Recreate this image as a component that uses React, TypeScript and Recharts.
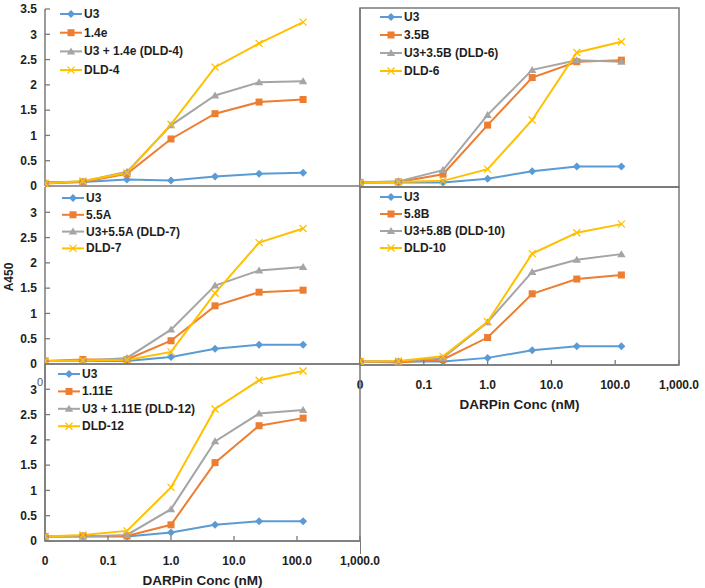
import React from "react";
import { LineChart, Line, XAxis, YAxis, ReferenceArea } from "recharts";

// x positions (nM) and axis labels
const conc = [0.01, 0.04, 0.2, 1, 5, 25, 125];
const xTicks = [0.01, 0.1, 1, 10, 100, 1000];
const xTickLabels = ["0", "0.1", "1.0", "10.0", "100.0", "1,000.0"];
const yTicksFull = [0, 0.5, 1, 1.5, 2, 2.5, 3, 3.5];
const yTicksCut = [0, 0.5, 1, 1.5, 2, 2.5, 3];

// panel: 1.4e / DLD-4
const namesDld4 = ["U3", "1.4e", "U3 + 1.4e (DLD-4)", "DLD-4"];
const u3Dld4 = [0.07, 0.08, 0.13, 0.11, 0.19, 0.24, 0.26];
const e14 = [0.05, 0.08, 0.24, 0.93, 1.43, 1.66, 1.71];
const u3e14 = [0.07, 0.09, 0.28, 1.2, 1.79, 2.05, 2.07];
const dld4 = [0.05, 0.1, 0.26, 1.22, 2.35, 2.82, 3.24];

// panel: 3.5B / DLD-6
const namesDld6 = ["U3", "3.5B", "U3+3.5B (DLD-6)", "DLD-6"];
const u3Dld6 = [0.09, 0.09, 0.09, 0.16, 0.31, 0.4, 0.4];
const b35 = [0.09, 0.1, 0.25, 1.21, 2.14, 2.45, 2.48];
const u3b35 = [0.09, 0.11, 0.33, 1.41, 2.29, 2.48, 2.45];
const dld6 = [0.09, 0.1, 0.12, 0.35, 1.31, 2.63, 2.84];

// panel: 5.5A / DLD-7
const namesDld7 = ["U3", "5.5A", "U3+5.5A (DLD-7)", "DLD-7"];
const u3Dld7 = [0.06, 0.06, 0.06, 0.14, 0.3, 0.38, 0.38];
const a55 = [0.06, 0.09, 0.09, 0.46, 1.15, 1.42, 1.46];
const u3a55 = [0.06, 0.06, 0.12, 0.68, 1.55, 1.85, 1.92];
const dld7 = [0.06, 0.07, 0.08, 0.24, 1.4, 2.4, 2.68];

// panel: 5.8B / DLD-10
const namesDld10 = ["U3", "5.8B", "U3+5.8B (DLD-10)", "DLD-10"];
const u3Dld10 = [0.07, 0.07, 0.07, 0.14, 0.29, 0.37, 0.37];
const b58 = [0.07, 0.05, 0.11, 0.54, 1.4, 1.69, 1.77];
const u3b58 = [0.07, 0.07, 0.14, 0.84, 1.83, 2.07, 2.18];
const dld10 = [0.07, 0.08, 0.17, 0.85, 2.19, 2.6, 2.77];

// panel: 1.11E / DLD-12
const namesDld12 = ["U3", "1.11E", "U3 + 1.11E (DLD-12)", "DLD-12"];
const u3Dld12 = [0.09, 0.09, 0.09, 0.17, 0.32, 0.39, 0.39];
const e111 = [0.09, 0.1, 0.1, 0.32, 1.55, 2.28, 2.43];
const u3e111 = [0.09, 0.09, 0.12, 0.63, 1.97, 2.52, 2.59];
const dld12 = [0.09, 0.12, 0.2, 1.06, 2.61, 3.18, 3.36];

const colors = ["#5B9BD5", "#ED7D31", "#A5A5A5", "#FFC000"];
const shapes = ["diamond", "square", "triangle", "x"];
const axisColor = "#7a7a7a";
const font = "'Liberation Sans', Arial, sans-serif";
const textColor = "#1e1e1e";

function Marker({ kind, cx, cy, color }: { kind: string; cx: number; cy: number; color: string }) {
  if (kind === "diamond")
    return <path d={`M${cx},${cy - 4}L${cx + 4},${cy}L${cx},${cy + 4}L${cx - 4},${cy}Z`} fill={color} />;
  if (kind === "square") return <rect x={cx - 3.5} y={cy - 3.5} width={7} height={7} fill={color} />;
  if (kind === "triangle")
    return <path d={`M${cx},${cy - 4}L${cx + 4.2},${cy + 3}L${cx - 4.2},${cy + 3}Z`} fill={color} />;
  return (
    <path
      d={`M${cx - 3.5},${cy - 3.5}L${cx + 3.5},${cy + 3.5}M${cx + 3.5},${cy - 3.5}L${cx - 3.5},${cy + 3.5}`}
      stroke={color}
      strokeWidth={1.3}
      fill="none"
    />
  );
}

type PanelProps = {
  left: number;
  top: number;
  width: number;
  height: number;
  yWidth: number;
  marginTop: number;
  marginRight: number;
  xHeight: number;
  series: number[][];
  yTickValues: number[];
  yLabels: boolean;
  xLabels: boolean;
  boxed: boolean;
};

function Panel(p: PanelProps) {
  const data = conc.map((c, i) => ({
    c,
    s0: p.series[0][i],
    s1: p.series[1][i],
    s2: p.series[2][i],
    s3: p.series[3][i],
  }));
  const tickStyle = { fontFamily: font, fontSize: 12, fontWeight: 700, fill: textColor };
  return (
    <div style={{ position: "absolute", left: p.left, top: p.top }}>
      <LineChart
        width={p.width}
        height={p.height}
        data={data}
        margin={{ top: p.marginTop, right: p.marginRight, left: 0, bottom: 0 }}
      >
        <XAxis
          dataKey="c"
          type="number"
          scale="log"
          domain={[0.01, 1000]}
          allowDataOverflow
          ticks={xTicks}
          interval={0}
          height={p.xHeight}
          tickSize={-5}
          tickMargin={20}
          tickLine={{ stroke: axisColor, strokeWidth: 1.3 }}
          axisLine={{ stroke: axisColor, strokeWidth: 1.5 }}
          tick={p.xLabels ? tickStyle : false}
          tickFormatter={(v: number) => xTickLabels[xTicks.indexOf(v)] ?? ""}
          label={
            p.xLabels
              ? {
                  value: "DARPin Conc (nM)",
                  position: "insideBottom",
                  offset: 3,
                  style: { fontFamily: font, fontSize: 13.5, fontWeight: 700, fill: textColor },
                }
              : undefined
          }
        />
        <YAxis
          type="number"
          domain={[0, 3.5]}
          ticks={p.yTickValues}
          interval={0}
          width={p.yWidth}
          tickSize={-5}
          tickMargin={13}
          tickLine={{ stroke: axisColor, strokeWidth: 1.3 }}
          axisLine={{ stroke: axisColor, strokeWidth: 1.5 }}
          tick={p.yLabels ? tickStyle : false}
          tickFormatter={(v: number) => String(v)}
        />
        {p.boxed && (
          <ReferenceArea
            x1={0.01}
            x2={1000}
            y1={0}
            y2={3.5}
            fill="none"
            stroke={axisColor}
            strokeWidth={1.5}
          />
        )}
        {[0, 1, 2, 3].map((k) => (
          <Line
            key={k}
            dataKey={`s${k}`}
            stroke={colors[k]}
            strokeWidth={2}
            isAnimationActive={false}
            dot={(d: any) => (
              <Marker key={`m${k}-${d.index}`} kind={shapes[k]} cx={d.cx} cy={d.cy} color={colors[k]} />
            )}
            activeDot={false}
          />
        ))}
      </LineChart>
    </div>
  );
}

function LegendRows({ x, y, dy, names }: { x: number; y: number; dy: number; names: string[] }) {
  return (
    <g>
      {names.map((n, i) => {
        const ry = y + i * dy;
        return (
          <g key={n}>
            <line x1={x} x2={x + 22} y1={ry} y2={ry} stroke={colors[i]} strokeWidth={2} />
            <Marker kind={shapes[i]} cx={x + 11} cy={ry} color={colors[i]} />
            <text
              x={x + 24}
              y={ry}
              dominantBaseline="central"
              fontFamily={font}
              fontSize={12}
              fontWeight={700}
              fill={textColor}
            >
              {n}
            </text>
          </g>
        );
      })}
    </g>
  );
}

export default function App() {
  return (
    <div
      style={{
        position: "absolute",
        left: 0,
        top: 0,
        width: 705,
        height: 588,
        background: "#fff",
        overflow: "hidden",
      }}
    >
      <Panel left={0} top={186} width={362} height={190} yWidth={45} marginTop={1} marginRight={2} xHeight={12}
        series={[u3Dld7, a55, u3a55, dld7]} yTickValues={yTicksCut} yLabels xLabels={false} boxed={false} />
      <Panel left={0} top={0} width={362} height={198} yWidth={45} marginTop={9} marginRight={2} xHeight={12}
        series={[u3Dld4, e14, u3e14, dld4]} yTickValues={yTicksFull} yLabels xLabels={false} boxed={false} />
      <Panel left={340} top={185} width={365} height={227} yWidth={20} marginTop={2} marginRight={26} xHeight={47}
        series={[u3Dld10, b58, u3b58, dld10]} yTickValues={yTicksFull} yLabels={false} xLabels boxed />
      <Panel left={340} top={0} width={341} height={189} yWidth={20} marginTop={8} marginRight={2} xHeight={2}
        series={[u3Dld6, b35, u3b35, dld6]} yTickValues={yTicksFull} yLabels={false} xLabels={false} boxed />
      <Panel left={0} top={362} width={386} height={226} yWidth={45} marginTop={2} marginRight={26} xHeight={47}
        series={[u3Dld12, e111, u3e111, dld12]} yTickValues={yTicksCut} yLabels xLabels boxed />
      <div style={{ position: "absolute", left: 359.5, top: 541, width: 1.5, height: 13, background: axisColor }} />
      <svg width={705} height={588} style={{ position: "absolute", left: 0, top: 0, pointerEvents: "none" }}>
        <LegendRows x={60} y={14} dy={18.7} names={namesDld4} />
        <LegendRows x={380} y={17} dy={18} names={namesDld6} />
        <LegendRows x={62} y={198} dy={16.8} names={namesDld7} />
        <LegendRows x={380} y={197} dy={17} names={namesDld10} />
        <LegendRows x={58} y={374} dy={17.4} names={namesDld12} />
        <text x={40} y={382} textAnchor="middle" dominantBaseline="central" fontFamily={font}
          fontSize={11} fill="#555">0</text>
        <text transform="translate(9,277) rotate(-90)" textAnchor="middle" dominantBaseline="central"
          fontFamily={font} fontSize={12} fontWeight={700} fill={textColor}>A450</text>
      </svg>
    </div>
  );
}
